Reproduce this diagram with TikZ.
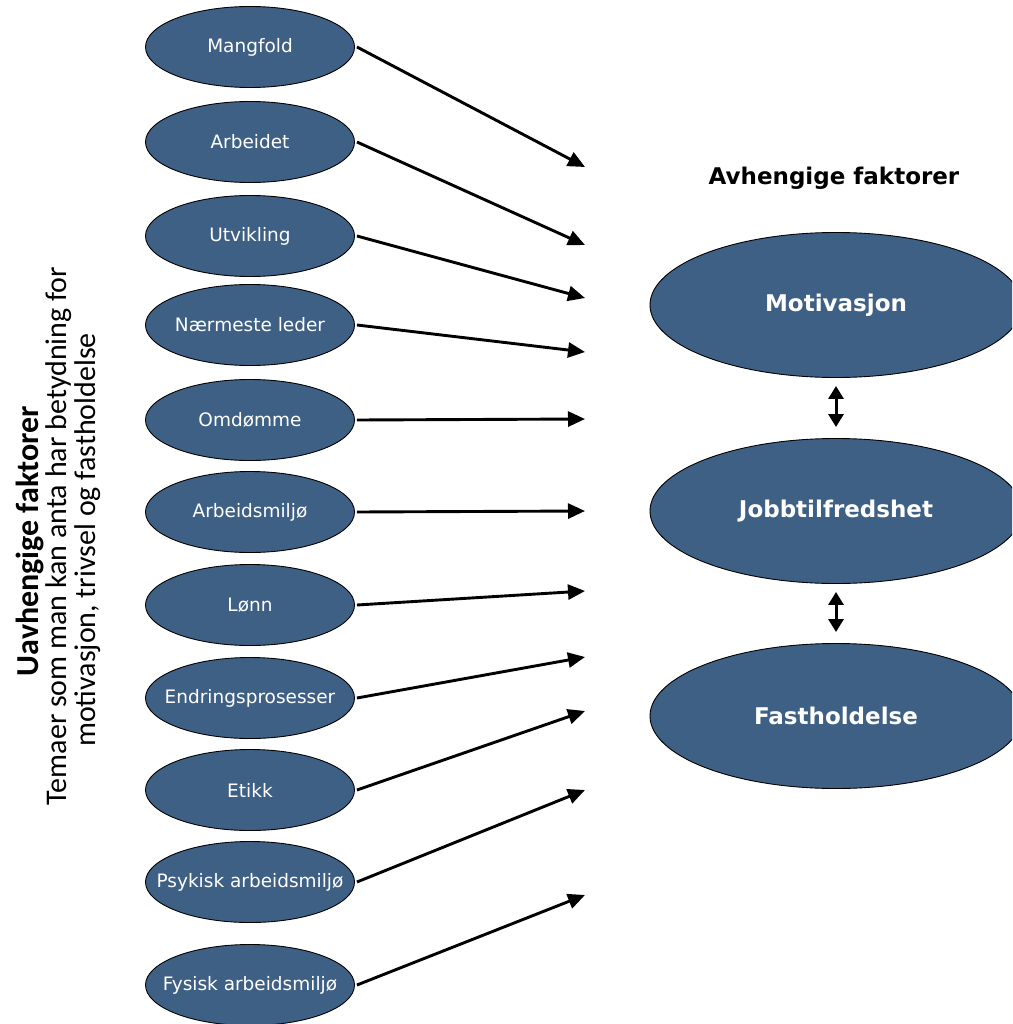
\documentclass[tikz,border=0pt]{standalone}
\usepackage{fontspec}
\setmainfont{DejaVu Sans}
\newfontfamily\calib{Carlito}
\usetikzlibrary{shapes.geometric,arrows.meta}
\definecolor{ellfill}{RGB}{63,96,133}
\newcommand{\zbox}[1]{\makebox[0pt]{#1}}
\tikzset{
  factor/.style={ellipse,draw=black,line width=0.9pt,fill=ellfill,text=white,
    minimum width=209pt,minimum height=81pt,inner sep=0pt,
    font=\fontsize{18.5}{20}\selectfont},
  bigfactor/.style={ellipse,draw=black,line width=0.9pt,fill=ellfill,text=white,
    minimum width=372pt,minimum height=145pt,inner sep=0pt,
    font=\fontsize{23}{25}\selectfont\bfseries},
  arr/.style={line width=2.9pt,-{Triangle[length=17pt,width=15pt]}},
  darr/.style={line width=3pt,{Triangle[length=13pt,width=15pt]}-{Triangle[length=13pt,width=15pt]}},
  sidetext/.style={rotate=90,anchor=base,inner sep=0pt,font=\calib\fontsize{30}{30}\selectfont}
}
\begin{document}
\begin{tikzpicture}[x=1pt,y=-1pt]
\path[use as bounding box] (0,0) rectangle (1012,1024);
\clip (0,0) rectangle (1012,1024);
% left factors
\node[factor] (f1) at (250,47) {\zbox{Mangfold}};
\node[factor] (f2) at (250,142) {\zbox{Arbeidet}};
\node[factor] (f3) at (250,236) {\zbox{Utvikling}};
\node[factor] (f4) at (250,325) {\zbox{Nærmeste leder}};
\node[factor] (f5) at (250,420) {\zbox{Omdømme}};
\node[factor] (f6) at (250,512) {\zbox{Arbeidsmiljø}};
\node[factor] (f7) at (250,605) {\zbox{Lønn}};
\node[factor] (f8) at (250,698) {\zbox{Endringsprosesser}};
\node[factor] (f9) at (250,790) {\zbox{Etikk}};
\node[factor] (f10) at (250,882) {\zbox{Psykisk arbeidsmiljø}};
\node[factor] (f11) at (250,985) {\zbox{Fysisk arbeidsmiljø}};
% arrow targets
\coordinate (t1) at (585,167);
\coordinate (t2) at (585,245);
\coordinate (t3) at (585,298);
\coordinate (t4) at (585,352);
\coordinate (t5) at (585,419);
\coordinate (t6) at (585,511);
\coordinate (t7) at (585,591);
\coordinate (t8) at (585,657);
\coordinate (t9) at (585,711);
\coordinate (t10) at (585,790);
\coordinate (t11) at (585,895);
\foreach \i in {1,...,11}{
  \draw[arr] ([xshift=2pt]f\i.east) -- (t\i);
}
% right side
\node[font=\fontsize{23}{25}\selectfont\bfseries,anchor=base] (head) at (834,185) {Avhengige faktorer};
\node[bigfactor] (mot) at (836,305) {\zbox{Motivasjon}};
\node[bigfactor] (job) at (836,511) {\zbox{Jobbtilfredshet}};
\node[bigfactor] (fas) at (836,716) {\zbox{Fastholdelse}};
\draw[darr,shorten <=8pt,shorten >=11pt] (mot.south) -- (job.north);
\draw[darr,shorten <=8pt,shorten >=11pt] (job.south) -- (fas.north);
% side text
\node[sidetext,font=\calib\fontsize{32}{32}\selectfont\bfseries] (s1) at (38,541) {Uavhengige faktorer};
\node[sidetext] (s2) at (66,536) {Temaer som man kan anta har betydning for};
\node[sidetext] (s3) at (95,540) {motivasjon, trivsel og fastholdelse};
\end{tikzpicture}
\end{document}
